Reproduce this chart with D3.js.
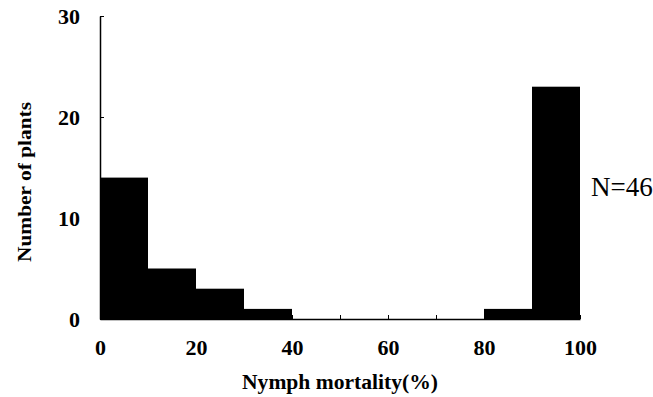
<!DOCTYPE html>
<meta charset="utf-8">
<html>
<script src="https://d3js.org/d3.v7.min.js"></script>
<style>
  body { margin: 0; background: #fff; }
  text { font-family: "Liberation Serif", "DejaVu Serif", serif; }
</style>
<div id="chart"></div>
<script>

// histogram bins (nymph mortality %) and number of plants in each
var binStart = [0, 10, 20, 30, 40, 50, 60, 70, 80, 90];
var binEnd   = [10, 20, 30, 40, 50, 60, 70, 80, 90, 100];
var plants   = [14, 5, 3, 1, 0, 0, 0, 0, 1, 23];
var xTicks = [0, 10, 20, 30, 40, 50, 60, 70, 80, 90, 100];
var xLabels = [0, 20, 40, 60, 80, 100];
var yTicks = [0, 10, 20, 30];

var width = 653,
    height = 397;

var svg = d3.select("#chart")
  .append("svg")
    .attr("width", width)
    .attr("height", height);

var x = d3.scaleLinear().domain([0, 100]).range([100, 580]);
var y = d3.scaleLinear().domain([0, 30]).range([319, 16]);

function styleAxis(g) {
  g.select(".domain").attr("stroke-width", 1.5);
  g.selectAll("text")
    .attr("font-size", 22)
    .attr("font-weight", "bold")
    .attr("fill", "#000");
}

// x axis, small ticks pointing up
svg.append("g")
    .attr("transform", "translate(0," + y(0) + ")")
    .call(d3.axisBottom(x)
      .tickValues(xTicks)
      .tickSizeInner(-4)
      .tickSizeOuter(0)
      .tickPadding(20)
      .tickFormat(function(d) { return xLabels.indexOf(d) >= 0 ? d : ""; }))
    .call(styleAxis);

// y axis, ticks pointing right
svg.append("g")
    .attr("transform", "translate(" + x(0) + ",0)")
    .call(d3.axisLeft(y)
      .tickValues(yTicks)
      .tickSizeInner(-4)
      .tickSizeOuter(0)
      .tickPadding(20))
    .call(styleAxis);

// bars
svg.selectAll("rect.bar")
  .data(plants)
  .enter().append("rect")
    .attr("class", "bar")
    .attr("x", function(d, i) { return x(binStart[i]); })
    .attr("width", function(d, i) { return x(binEnd[i]) - x(binStart[i]); })
    .attr("y", function(d) { return y(d); })
    .attr("height", function(d) { return y(0) - y(d); })
    .attr("fill", "#000");

// axis titles
svg.append("text")
    .attr("x", 340)
    .attr("y", 389)
    .attr("text-anchor", "middle")
    .attr("font-size", 20)
    .attr("font-weight", "bold")
    .attr("textLength", 196)
    .attr("lengthAdjust", "spacingAndGlyphs")
    .text("Nymph mortality(%)");

svg.append("text")
    .attr("transform", "translate(31,182) rotate(-90)")
    .attr("text-anchor", "middle")
    .attr("font-size", 19)
    .attr("font-weight", "bold")
    .attr("textLength", 160)
    .attr("lengthAdjust", "spacingAndGlyphs")
    .text("Number of plants");

svg.append("text")
    .attr("x", 591)
    .attr("y", 196)
    .attr("font-size", 27)
    .text("N=46");
</script>
</html>
